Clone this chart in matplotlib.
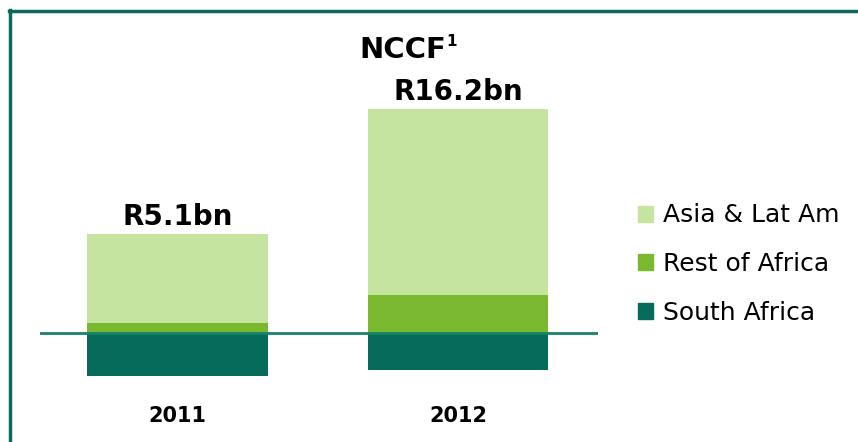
import matplotlib
matplotlib.use("Agg")
import matplotlib.pyplot as plt
from matplotlib.patches import Patch
from matplotlib.lines import Line2D
import numpy as np

years = ["2011", "2012"]
south_africa = [-3.7, -3.2]
rest_of_africa = [0.9, 3.3]
asia_lat_am = [7.7, 16.2]
totals = ["R5.1bn", "R16.2bn"]

c_sa = "#076b5b"
c_roa = "#7ab82e"
c_asia = "#c5e4a0"
c_frame = "#0b6b5a"

plt.rcParams['font.family'] = ['DejaVu Sans']

W, H = 858, 442
fig = plt.figure(figsize=(W / 100, H / 100), dpi=100)
ax = fig.add_axes([40 / W, 0, (598 - 40) / W, 1])

x = np.arange(len(years))
w = 0.642
ax.bar(x, south_africa, w, color=c_sa)
ax.bar(x, rest_of_africa, w, color=c_roa)
top = np.array(rest_of_africa) + np.array(asia_lat_am)
ax.bar(x, asia_lat_am, w, bottom=rest_of_africa, color=c_asia)
ax.axhline(0, color="#17836a", lw=2)

for xi, t, lab, yr in zip(x, top, totals, years):
    ax.annotate(lab, (xi, t), xytext=(0, 2), textcoords="offset points",
                ha="center", va="bottom", fontsize=20, fontweight="bold")
    ax.text(xi, -7.2, yr, ha="center", va="center", fontsize=15, fontweight="bold")

# title with small superscript
fig.text(359 / W, 1 - 50 / H, "NCCF", ha="left", va="center",
         fontsize=21, fontweight="bold")
fig.text(446 / W, 1 - 41 / H, "1", ha="left", va="center",
         fontsize=11, fontweight="bold")

ax.set_xlim(-0.490, 1.499)
ax.set_ylim(-109 / 11.5, 333 / 11.5)
ax.axis("off")

# frame
fig.add_artist(Line2D([9 / W, 1], [1 - 11 / H, 1 - 11 / H], color=c_frame, lw=2.5,
                      transform=fig.transFigure))
fig.add_artist(Line2D([10 / W, 10 / W], [0, 1 - 10 / H], color=c_frame, lw=2.5,
                      transform=fig.transFigure))

handles = [Patch(color=c_asia, label="Asia & Lat Am"),
           Patch(color=c_roa, label="Rest of Africa"),
           Patch(color=c_sa, label="South Africa")]
fig.legend(handles=handles, loc="upper left", bbox_to_anchor=(615 / W, 1 - 181 / H),
           frameon=False, fontsize=18, handlelength=0.62, handleheight=0.62,
           handletextpad=0.4, labelspacing=0.98)

fig.savefig("out.png", dpi=100)
